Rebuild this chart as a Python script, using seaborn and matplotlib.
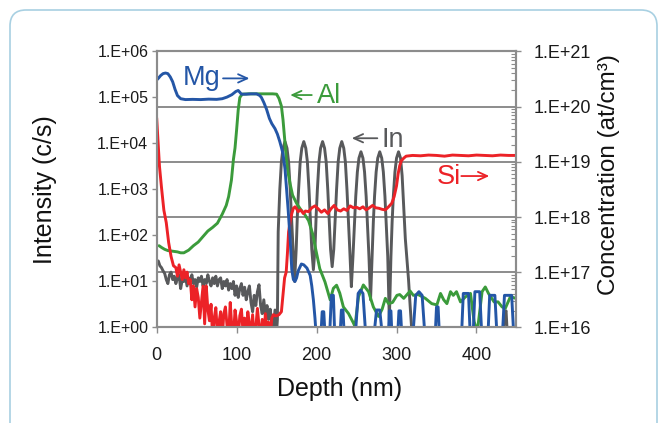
import numpy as np
import pandas as pd
import matplotlib
matplotlib.use("Agg")
import matplotlib.pyplot as plt
import seaborn as sns
from matplotlib.ticker import FixedLocator, FuncFormatter, NullLocator, LogLocator
from matplotlib.patches import FancyBboxPatch
from matplotlib.transforms import IdentityTransform

# ---- data (depth in nm, intensity in c/s) ----
mg_depth = [0, 2, 5, 8, 11, 14, 17, 20, 23, 26,
            30, 36, 45, 55, 65, 75, 82, 88, 94, 99,
            102, 104, 106, 112, 118, 125, 129, 131, 134, 137.5,
            141, 144, 148, 151, 154, 156, 158, 160.5, 162.5, 164.5,
            167, 169, 171, 173, 175, 177, 181, 184, 188, 192,
            194, 196, 198, 200,
            205, 207, 209, 211, 216, 218.5, 221, 223, 229, 231, 233, 235,
            248, 252, 255, 258, 262, 271, 275, 279, 283, 289.5, 291, 293, 294.5,
            301, 303, 305, 307, 320, 324, 328, 332, 336, 348, 350, 352, 354,
            381, 383.5, 390, 392.5, 395.5, 398, 404, 407, 414, 416.5, 423, 426,
            432, 435, 444, 447, 450]
mg_value = [2.4e5, 2.6e5, 3.0e5, 3.3e5, 3.4e5, 3.3e5, 2.8e5, 2.2e5, 1.5e5, 1.1e5,
            9.4e4, 9.0e4, 9.1e4, 9.0e4, 9.2e4, 9.1e4, 9.4e4, 1.02e5, 1.15e5, 1.35e5,
            1.42e5, 1.3e5, 1.18e5, 1.18e5, 1.2e5, 1.2e5, 1.1e5, 1.0e5, 7.8e4, 5.5e4,
            3.5e4, 2.7e4, 2.1e4, 1.6e4, 1.1e4, 8.2e3, 6.0e3, 2.8e3, 1000, 350,
            80, 18, 11, 10, 12, 17, 24, 23, 19.5, 13.5,
            8, 4, 1.6, 0.5,
            0.5, 2.2, 2.2, 0.5, 0.5, 5.0, 5.0, 0.5, 0.5, 2.4, 2.4, 0.5,
            0.5, 5.5, 6.5, 5.5, 0.5, 0.5, 2.4, 2.4, 0.5, 0.5, 2.3, 2.3, 0.5,
            0.5, 2.3, 2.3, 0.5, 0.5, 5.0, 6.0, 5.0, 0.5, 0.5, 2.8, 2.8, 0.5,
            0.5, 5.5, 5.5, 0.5, 0.5, 6.0, 6.0, 0.5, 0.5, 5.0, 5.0, 0.5,
            0.5, 5.0, 5.0, 0.5, 0.5]

al_depth = [3, 6, 10, 14, 18, 22, 26, 30, 34, 40,
            46, 52, 58, 64, 70, 76, 82, 87, 90, 93.5,
            96, 98, 100, 102, 104, 107, 115, 130, 145, 150,
            153, 156, 158, 160, 162, 164, 167, 170, 175, 180,
            185, 190, 195, 198, 204, 210.5, 217, 221, 225, 229,
            233.5, 240, 246, 248, 252.5, 258.5, 265, 271, 277.5, 282,
            286, 290, 295, 300.5, 304, 309, 317, 321, 327, 336,
            344, 350.5, 355, 359, 363, 367.5, 371, 375, 380, 386,
            392.5, 397, 401, 407, 411, 415, 422, 427, 432, 436,
            442.5, 449]
al_value = [60, 55, 50, 47, 46, 45, 44, 42, 42, 48,
            60, 72, 95, 125, 150, 185, 290, 450, 700, 1600,
            4500, 8000, 2.0e4, 5.4e4, 1.0e5, 1.18e5, 1.2e5, 1.2e5, 1.2e5, 1.18e5,
            9.5e4, 6.5e4, 3.3e4, 1.3e4, 5000, 2500, 1300, 750, 500, 370,
            290, 210, 110, 60, 19, 9.8, 4.0, 7.1, 8.3, 5.6,
            2.8, 2.0, 1.26, 1.05, 4.7, 8.4, 6.0, 2.8, 1.74, 2.5,
            4.3, 3.3, 3.5, 5.0, 5.2, 4.3, 6.2, 5.0, 5.2, 4.3,
            3.3, 3.1, 5.5, 4.0, 3.3, 6.0, 5.0, 6.0, 3.6, 4.6,
            5.5, 1.35, 0.8, 6.0, 7.6, 5.5, 3.6, 3.6, 2.8, 2.6,
            4.7, 4.3]

in_depth = [2, 4, 6, 8, 10, 12, 14, 16, 18, 20,
            22, 24, 26, 28, 30, 32, 34, 36, 38, 40,
            42, 44, 46, 48, 50, 52, 54, 56, 58, 60,
            62, 64, 66, 68, 70, 72, 74, 76, 78, 80,
            82, 84, 86, 88, 90, 92, 94, 96, 98, 100,
            102, 104, 106, 108, 110, 112, 114, 116, 118, 120,
            122, 124, 126, 128, 130, 132, 134, 136, 138, 140,
            142, 144, 146, 148, 150,
            151, 152, 154, 156, 158, 160.5, 163, 165, 167, 168.5, 170.5, 172.5,
            174.5, 176, 177.5, 179.5, 181.5, 184, 186.5, 188.5, 190.5, 192, 194, 196,
            198, 199.5, 201, 203, 205, 207.5, 210, 212, 214, 215.5, 217.5, 219.5,
            221.5, 223.5, 225, 227, 229, 231.5, 234, 236, 238, 239.5, 241.5, 243.5,
            245.5, 247.5, 249, 251, 253, 255.5, 258, 260, 262, 263.5, 265.5, 267.5,
            269.5, 271, 272.5, 274.5, 276.5, 279, 281.5, 283.5, 285.5, 287, 289, 291,
            293, 294.5, 296, 298, 300, 302.5, 305, 307, 309, 311, 313, 315, 317, 319, 321,
            330, 433, 435, 437, 439, 450]
in_value = [28, 22, 20, 17, 15, 11, 9, 14, 16, 11,
            13, 9, 12, 14, 7, 11, 10, 13, 8, 12,
            10, 14, 9, 11, 7.5, 12, 10, 13, 8, 11,
            9, 14, 10, 8, 12, 9, 13, 8, 11, 12,
            7, 10, 8, 11, 6.5, 9, 7, 10, 5, 8,
            4.5, 7, 9, 5, 7.5, 4, 6, 8, 3.5, 2.2,
            5, 3, 6, 8.5, 3, 2, 4, 1.8, 3, 1.5,
            2.5, 1.2, 0.9, 2.4, 0.8,
            1.5, 120, 1000, 4000, 7900, 11000, 7900, 4000, 1000, 280, 50, 10,
            50, 280, 1000, 4000, 7900, 11000, 7900, 4000, 1000, 280, 50, 18,
            50, 280, 1000, 4000, 7900, 11000, 7900, 4000, 1000, 280, 50, 21,
            50, 280, 1000, 4000, 7900, 11000, 7900, 4000, 1000, 280, 50, 7.7,
            35, 200, 710, 2400, 4800, 6600, 4800, 2400, 710, 200, 35, 4,
            35, 200, 710, 2400, 4800, 6600, 4800, 2400, 710, 200, 35, 1.45,
            35, 200, 710, 2400, 4800, 6600, 4800, 2000, 400, 85, 30, 11, 3, 0.9, 0.5,
            0.5, 0.5, 2.0, 2.3, 0.5, 0.5]

si_depth = [0, 1.5, 3.5, 6, 9, 12, 15, 18, 21, 24,
            26, 28, 30, 32, 34, 36, 38, 40, 42, 44,
            46, 48, 50, 52, 54, 56, 58, 60, 62, 64,
            66, 68, 70, 72, 74, 76, 78, 80, 82, 84,
            86, 88, 90, 92, 94, 96, 98, 100, 102, 104,
            106, 108, 110, 112, 114, 116, 118, 120, 122, 124,
            126, 128, 130, 132, 134, 136, 138, 140, 142, 144,
            146, 148, 150,
            153, 156, 158, 160, 162, 163.5, 165, 167, 169, 171, 173, 175, 177, 180, 183.5, 186,
            190, 194, 198, 202, 206, 210, 214, 218, 222, 226,
            230, 234, 238, 242, 246, 250, 254, 258, 262, 266,
            270, 274, 278, 282, 286, 290, 294,
            297, 300, 302, 304, 306, 309, 312,
            320, 330, 340, 350, 360, 370, 380, 390, 400, 410, 420, 430, 440, 450]
si_value = [36000, 12600, 3200, 1120, 355, 190, 70, 35, 22, 20,
            13, 23, 16, 11, 18, 12, 16, 9, 11, 4,
            8, 2.8, 7, 4.5, 1.6, 3.5, 7.9, 1.2, 8, 2.5,
            1.4, 3.2, 0.6, 1.6, 2.7, 0.7, 1.3, 2.2, 0.6, 2,
            2.8, 1.1, 0.6, 3.5, 1.0, 0.6, 2.4, 1.3, 0.6, 1.8,
            2.5, 0.8, 1.6, 0.6, 2.2, 1.2, 0.7, 1.9, 0.6, 1.0,
            2.6, 1.1, 0.6, 1.5, 0.7, 2.0, 0.8, 1.3, 0.6, 1.6,
            1.9, 1.8, 1.8,
            1.9, 2.2, 5, 12, 16, 40, 120, 200, 300, 390, 420, 380, 330, 360, 300, 340,
            330, 400, 440, 380, 320, 360, 300, 380, 450, 360,
            340, 380, 350, 440, 400, 410, 380, 420, 360, 400,
            450, 400, 390, 370, 360, 420, 500,
            700, 1200, 2200, 3300, 4200, 4800, 5300,
            5500, 5400, 5600, 5500, 5300, 5600, 5500, 5400, 5600, 5500, 5400, 5600, 5500, 5500]

series = [
    ("In", in_depth, in_value, "#58595b"),
    ("Al", al_depth, al_value, "#3b9b3b"),
    ("Si", si_depth, si_value, "#ec2227"),
    ("Mg", mg_depth, mg_value, "#2456a6"),
]

# element names: (text, depth, intensity at baseline, colour)
names = [
    ("Mg", 32.5, 1.87e5, "#2456a6"),
    ("Al", 200, 7.7e4, "#3b9b3b"),
    ("In", 281.5, 8.5e3, "#58595b"),
    ("Si", 350, 1.32e3, "#ec2227"),
]
# thin arrows next to the names: (from depth, to depth, intensity, colour)
arrows = [
    (83, 116, 2.6e5, "#2456a6"),
    (194, 167, 1.13e5, "#3b9b3b"),
    (276, 244, 1.3e4, "#58595b"),
    (381, 416, 1.96e3, "#ec2227"),
]

sns.set_theme(style="white")
plt.rcParams["font.family"] = ["Liberation Sans", "DejaVu Sans"]

GREY = "#8c8c8c"
fig = plt.figure(figsize=(6.58, 4.23), dpi=100)
ax = fig.add_axes([0.2381, 0.2258, 0.5468, 0.6525])
ax2 = ax.twinx()

for name, d, v, c in series:
    df = pd.DataFrame({"depth": d, "value": v})
    sns.lineplot(data=df, x="depth", y="value", ax=ax, color=c,
                 linewidth=2.1, estimator=None, sort=False)

ax.set_yscale("log")
ax.set_xlim(0, 450)
ax.set_ylim(1, 1e6)
ax2.set_yscale("log")
ax2.set_ylim(1e16, 1e21)

# grid lines come from the concentration axis, drawn behind the curves
ax.set_zorder(ax2.get_zorder() + 1)
ax.patch.set_visible(False)
ax.grid(False)
ax2.grid(False)
ax2.yaxis.grid(True, which="major", color=GREY, linewidth=1.4)

fmt = FuncFormatter(lambda v, p: f"1.E+{int(round(np.log10(v))):02d}")
ax.yaxis.set_major_locator(FixedLocator([10.0 ** k for k in range(0, 7)]))
ax.yaxis.set_major_formatter(fmt)
ax.yaxis.set_minor_locator(NullLocator())
ax2.yaxis.set_major_locator(FixedLocator([10.0 ** k for k in range(16, 22)]))
ax2.yaxis.set_major_formatter(fmt)
ax2.yaxis.set_minor_locator(LogLocator(base=10, subs=range(2, 10), numticks=30))
ax.set_xticks([0, 100, 200, 300, 400])

ax.tick_params(axis="y", which="major", left=True, right=False, direction="out",
               length=3.6, width=1, color=GREY, pad=2.4, labelsize=11.5, labelcolor="#1a1a1a")
ax.tick_params(axis="x", bottom=True, top=False, direction="out", length=4.3,
               width=1, color=GREY, pad=10, labelsize=13, labelcolor="#1a1a1a")
ax2.tick_params(axis="y", which="major", right=True, direction="out", length=3.6,
                width=1, color=GREY, pad=8.4, labelsize=13, labelcolor="#1a1a1a")
ax2.tick_params(axis="y", which="minor", right=True, direction="in", length=3.5,
                width=0.8, color=GREY)

for a in (ax, ax2):
    for s in a.spines.values():
        s.set_color(GREY)
        s.set_linewidth(1.5)

ax.set_xlabel("Depth (nm)", fontsize=18, color="#111111")
ax.xaxis.set_label_coords(0.507, -0.179)
ax.set_ylabel("Intensity (c/s)", fontsize=18, color="#111111")
ax.yaxis.set_label_coords(-0.278, 0.5)
ax2.set_ylabel("Concentration (at/cm\u00b3)", fontsize=17.5, color="#111111")
ax2.yaxis.set_label_coords(1.228, 0.555)

for txt, x, y, c in names:
    ax.text(x, y, txt, color=c, fontsize=19.5, ha="left", va="baseline")
for x0, x1, y, c in arrows:
    ax.annotate("", xy=(x1, y), xytext=(x0, y),
                arrowprops=dict(arrowstyle="->,head_length=0.55,head_width=0.25",
                                color=c, lw=1.3, shrinkA=0, shrinkB=0))

# rounded panel frame around the figure
frame = FancyBboxPatch((10, -30), 647, 443, boxstyle="round,pad=0,rounding_size=16",
                       transform=IdentityTransform(), fill=False,
                       edgecolor="#a8d0e2", linewidth=1.2)
fig.add_artist(frame)

fig.savefig("out.png", dpi=100)
plt.close(fig)
